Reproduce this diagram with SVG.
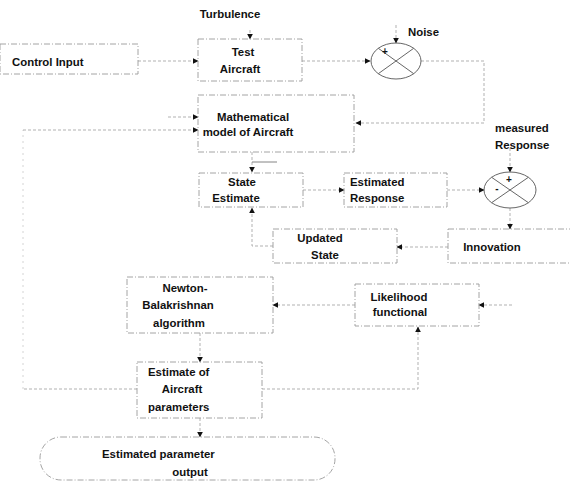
<svg xmlns="http://www.w3.org/2000/svg" width="570" height="483" viewBox="0 0 570 483">
<defs>
<style>
.box{fill:none;stroke:#9a9a9a;stroke-width:0.9;stroke-dasharray:6 2 1 2}
.ln{fill:none;stroke:#a8a8a8;stroke-width:0.9;stroke-dasharray:3 2}
.faint{stroke:#cfcfcf;stroke-dasharray:2 4}
.sum{fill:none;stroke:#555;stroke-width:0.9}
text{font-family:"Liberation Sans",Arial,sans-serif;font-weight:bold;font-size:11.4px;fill:#111}
.m{text-anchor:middle}
.sg{font-size:10px}
</style>
<marker id="ah" viewBox="0 0 10 10" refX="9" refY="5" markerWidth="6" markerHeight="6" orient="auto" markerUnits="userSpaceOnUse">
<path d="M0,0 L10,5 L0,10 z" fill="#111"/>
</marker>
</defs>
<rect width="570" height="483" fill="#fff"/>

<g id="connectors">
<path class="ln" d="M250,30 V39" marker-end="url(#ah)"/>
<path class="ln" d="M138,61 H198" marker-end="url(#ah)"/>
<path class="ln" d="M302,61 H370" marker-end="url(#ah)"/>
<path class="ln" d="M396,25 V43" marker-end="url(#ah)"/>
<path class="ln" d="M421,61 H484 V123 H356" marker-end="url(#ah)"/>
<path class="ln" d="M168,117 H198" marker-end="url(#ah)"/>
<path class="ln faint" d="M23,389 V130"/>
<path class="ln" d="M137,389 H23 M23,130 H198" marker-end="url(#ah)"/>
<path class="ln" d="M252,152 V172" marker-end="url(#ah)"/>
<path class="ln" d="M252,162 H277" style="stroke-dasharray:none;stroke:#777"/>
<path class="ln" d="M303,190 H344" marker-end="url(#ah)"/>
<path class="ln" d="M447,190 H484" marker-end="url(#ah)"/>
<path class="ln" d="M510,148 V172" marker-end="url(#ah)"/>
<path class="ln" d="M510,208 V229" marker-end="url(#ah)"/>
<path class="ln" d="M448,247 H397" marker-end="url(#ah)"/>
<path class="ln" d="M273,246 H252 V208" marker-end="url(#ah)"/>
<path class="ln" d="M355,305 H273" marker-end="url(#ah)"/>
<path class="ln" d="M512,305 H479" marker-end="url(#ah)"/>
<path class="ln" d="M200,333 V362" marker-end="url(#ah)"/>
<path class="ln" d="M200,418 V437" marker-end="url(#ah)"/>
<path class="ln" d="M262,389 H418 V327" marker-end="url(#ah)"/>
</g>

<g id="turbulence"><text class="m" x="230" y="18">Turbulence</text></g>

<g id="control-input">
<rect class="box" x="0" y="44" width="138" height="30"/>
<text x="12" y="66">Control Input</text>
</g>

<g id="test-aircraft">
<rect class="box" x="198" y="39" width="104" height="42"/>
<text class="m" x="243" y="56">Test</text>
<text class="m" x="240" y="73">Aircraft</text>
</g>

<g id="noise"><text x="408" y="36">Noise</text></g>

<g id="sum1">
<ellipse class="sum" cx="396" cy="61" rx="25" ry="18"/>
<path class="sum" d="M378.3,48.3 L413.7,73.7 M413.7,48.3 L378.3,73.7"/>
<text class="m sg" x="385" y="55">+</text>
</g>

<g id="math-model">
<rect class="box" x="198" y="95" width="156" height="57"/>
<text class="m" x="253" y="121">Mathematical</text>
<text class="m" x="248" y="136">model of Aircraft</text>
</g>

<g id="measured-response">
<text x="495" y="132">measured</text>
<text x="495" y="149">Response</text>
</g>

<g id="state-estimate">
<rect class="box" x="199" y="173" width="104" height="34"/>
<text class="m" x="242" y="186">State</text>
<text class="m" x="236" y="202">Estimate</text>
</g>

<g id="estimated-response">
<rect class="box" x="344" y="173" width="103" height="34"/>
<text x="350" y="186">Estimated</text>
<text x="350" y="202">Response</text>
</g>

<g id="sum2">
<ellipse class="sum" cx="510" cy="190" rx="26" ry="18"/>
<path class="sum" d="M491.6,177.3 L528.4,202.7 M528.4,177.3 L491.6,202.7"/>
<text class="m sg" x="509" y="183">+</text>
<text class="m sg" x="497" y="192">-</text>
</g>

<g id="innovation">
<rect class="box" x="448" y="229" width="130" height="34"/>
<text class="m" x="492" y="251">Innovation</text>
</g>

<g id="updated-state">
<rect class="box" x="273" y="229" width="124" height="34"/>
<text class="m" x="320" y="242">Updated</text>
<text class="m" x="325" y="259">State</text>
</g>

<g id="newton">
<rect class="box" x="127" y="277" width="146" height="56"/>
<text class="m" x="185" y="292">Newton-</text>
<text class="m" x="178" y="309">Balakrishnan</text>
<text class="m" x="179" y="327">algorithm</text>
</g>

<g id="likelihood">
<rect class="box" x="355" y="284" width="124" height="42"/>
<text class="m" x="399" y="301">Likelihood</text>
<text class="m" x="400" y="316">functional</text>
</g>

<g id="estimate-params">
<rect class="box" x="137" y="362" width="125" height="56"/>
<text x="148" y="376">Estimate of</text>
<text class="m" x="182" y="393">Aircraft</text>
<text x="148" y="411">parameters</text>
</g>

<g id="output">
<rect class="box" x="40" y="437" width="295" height="43" rx="21" ry="21"/>
<text x="102" y="458">Estimated  parameter</text>
<text class="m" x="190" y="476">output</text>
</g>
</svg>
